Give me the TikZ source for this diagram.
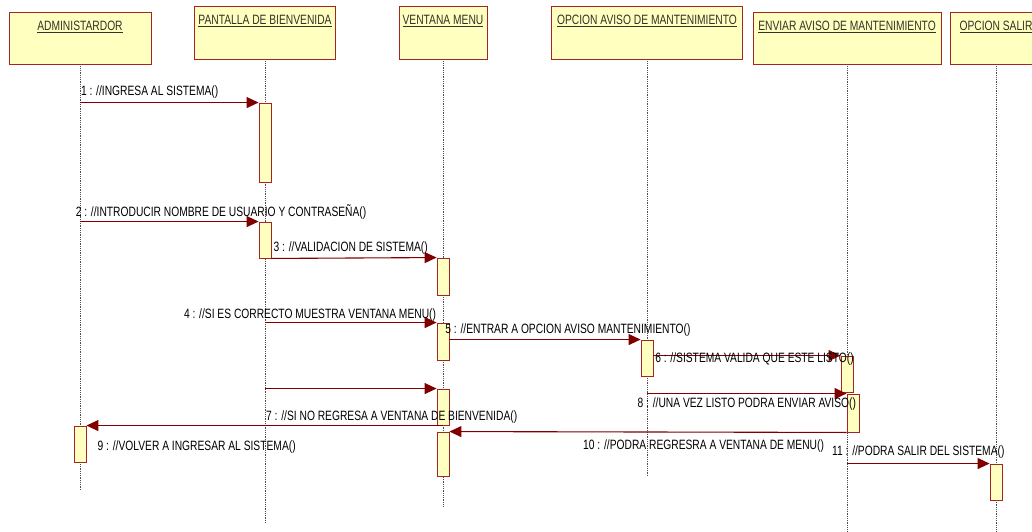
\documentclass[tikz,border=0pt]{standalone}
\usepackage{fontspec}
\setmainfont[FakeStretch=0.76]{Liberation Sans}
\usepackage{tikz}
\usetikzlibrary{arrows.meta,fit}
\definecolor{boxfill}{RGB}{255,255,192}
\definecolor{boxline}{RGB}{165,36,36}
\definecolor{msgred}{RGB}{128,0,0}
\definecolor{headtxt}{RGB}{50,50,40}

\begin{document}
\begin{tikzpicture}[x=1pt,y=-1pt,font=\fontsize{13.5}{15}\selectfont,
  headbox/.style={draw=boxline,fill=boxfill,line width=0.9pt,minimum height=53pt,inner sep=0pt},
  headtxt/.style={text=headtxt,inner sep=0pt},
  actbar/.style={draw=boxline,fill=boxfill,line width=0.9pt,inner sep=0pt},
  lifeline/.style={gray!60!black,line width=0.6pt,dash pattern=on 1pt off 0.8pt},
  msg/.style={msgred,line width=1.1pt,-{Triangle[length=12pt,width=11pt]}},
  msgtxt/.style={inner sep=0pt,text=black}]
\useasboundingbox (0,0) rectangle (1032,532);
\clip (0,0) rectangle (1032,532);
% objects
\node[headbox,minimum width=142pt,minimum height=52pt] (admin) at (80,38) {};
\node[headbox,minimum width=141pt] (pant) at (265,32.5) {};
\node[headbox,minimum width=88pt] (menu) at (443,32.5) {};
\node[headbox,minimum width=191pt] (opc) at (647,32.5) {};
\node[headbox,minimum width=188pt,minimum height=52pt] (env) at (847,38) {};
\node[headbox,minimum width=92pt,minimum height=52pt] (sal) at (996,38) {};
\foreach \n/\t in {admin/ADMINISTARDOR, pant/PANTALLA DE BIENVENIDA, menu/VENTANA MENU,
  opc/OPCION AVISO DE MANTENIMIENTO, env/ENVIAR AVISO DE MANTENIMIENTO, sal/OPCION SALIR}
  \node[headtxt] (\n-t) at ([yshift=-15.5pt]\n.north) {\underline{\t}};
% lifelines
\foreach \n/\len in {admin/426, pant/464, menu/448, opc/417, env/468, sal/468}
  \draw[lifeline] (\n.south) -- ++(0,\len);
% activations
\foreach \b/\xa/\ya/\xb/\yb in {p1/259/103/271/182, p2/259/222/271/258, m1/437/258/449/295,
  m2/437/323/449/360, m3/437/389/449/425, m4/437/432/449/476, o1/641/340/653/376,
  e1/841/356/853/392, e2/847/394/859/432, a1/74/426/86/462, s1/990/464/1002/500}
  \node[actbar,fit={(\xa,\yb) (\xb,\ya)}] (\b) {};
% messages
\draw[msg] (admin.south |- p1.north west) -- (p1.north west)
  node[msgtxt,pos=0.39,yshift=11pt] (m1t) {1 : //INGRESA AL SISTEMA()};
\draw[msg] (admin.south |- p2.north west) -- (p2.north west)
  node[msgtxt,pos=0.79,yshift=10pt] (m2t) {2 : //INTRODUCIR NOMBRE DE USUARIO Y CONTRASEÑA()};
\draw[msg] (p2.south east) -- (m1.north west)
  node[msgtxt,pos=0.48,yshift=10pt] (m3t) {3 : //VALIDACION DE SISTEMA()};
\draw[msg] (pant.south |- m2.north west) -- (m2.north west)
  node[msgtxt,pos=1,anchor=east,yshift=8pt] (m4t) {4 : //SI ES CORRECTO MUESTRA VENTANA MENU()};
\draw[msg] (m2.east |- o1.north west) -- (o1.north west)
  node[msgtxt,pos=0.62,yshift=10pt] (m5t) {5 : //ENTRAR A OPCION AVISO MANTENIMIENTO()};
\draw[msg] (o1.east |- e1.north west) -- (e1.north west)
  node[msgtxt,pos=0.54,yshift=-3pt] (m6t) {6 : //SISTEMA VALIDA QUE ESTE LISTO()};
\draw[msg] (pant.south |- m3.north west) -- (m3.north west);
\draw[msg] (opc.south |- e2.north west) -- (e2.north west)
  node[msgtxt,pos=0.5,yshift=-10pt] (m8t) {8 : //UNA VEZ LISTO PODRA ENVIAR AVISO()};
\draw[msg] (menu.south |- a1.north east) -- (a1.north east)
  node[msgtxt,pos=0.144,yshift=9pt] (m7t) {7 : //SI NO REGRESA A VENTANA DE BIENVENIDA()};
\draw[msg] (e2.south west) -- (m4.north east)
  node[msgtxt,pos=0.36,yshift=-14pt] (m10t) {10 : //PODRA REGRESRA A VENTANA DE MENU()};
\draw[msg] (env.south |- s1.north west) -- (s1.north west)
  node[msgtxt,pos=0.5,yshift=12pt] (m11t) {11 : //PODRA SALIR DEL SISTEMA()};
\node[msgtxt,anchor=west] (m9t) at ([xshift=11pt,yshift=-3pt]a1.east) {9 : //VOLVER A INGRESAR AL SISTEMA()};
\end{tikzpicture}
\end{document}
